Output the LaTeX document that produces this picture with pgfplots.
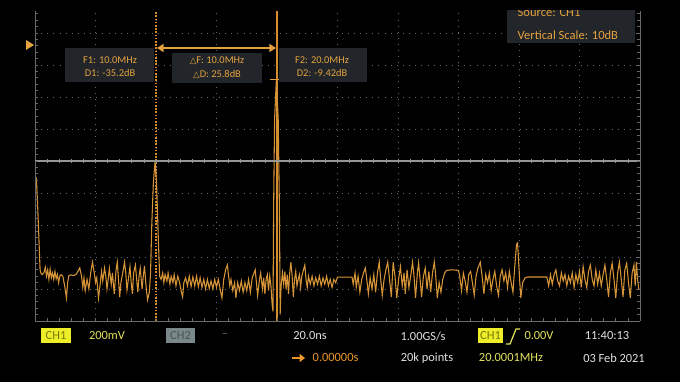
\documentclass[border=0pt]{standalone}
\usepackage{pgfplots}
\pgfplotsset{compat=1.18}
\usetikzlibrary{arrows.meta}
\usepackage{fontspec}
\setmainfont{Carlito}
\newfontfamily\dejavu{DejaVu Sans}
\definecolor{trace}{RGB}{214,148,56}
\definecolor{amber}{RGB}{228,162,62}
\definecolor{markerline}{RGB}{215,140,45}
\definecolor{boxbg}{RGB}{34,38,42}
\definecolor{gridgray}{RGB}{105,105,105}
\definecolor{centergray}{RGB}{150,150,150}
\definecolor{chyellow}{RGB}{238,238,40}
\definecolor{chtext}{RGB}{120,120,10}
\definecolor{ytext}{RGB}{228,228,95}
\definecolor{ch2}{RGB}{122,136,138}
\definecolor{ch2text}{RGB}{70,85,88}
\definecolor{wtext}{RGB}{225,225,225}
\definecolor{otext}{RGB}{235,150,40}
\begin{document}
\begin{tikzpicture}
\path[use as bounding box] (0,0) rectangle (510pt,286.5pt);
\fill[black] (0,0) rectangle (510pt,286.5pt);
\begin{axis}[
  at={(26.25pt,45.75pt)}, anchor=south west,
  scale only axis, width=453.75pt, height=232.5pt,
  xmin=0, xmax=50, ymin=-85, ymax=11.875,
  axis line style={draw=none},
  xtick={5,10,...,45}, ytick={-75,-65,...,5},
  xticklabels={}, yticklabels={},
  major tick length=0pt,
  grid=major,
  major grid style={draw=gridgray, line width=0.6pt, dash pattern=on 0.7pt off 3.9pt},
  clip=true,
]
% marker lines
\addplot[markerline, line width=0.8pt, dash pattern=on 1.2pt off 1.2pt] coordinates {(10,-85) (10,11.875)};
\addplot[markerline, line width=0.8pt] coordinates {(20,-85) (20,11.875)};
\addplot[centergray, line width=0.7pt] coordinates {(9.4,-35.2) (10.6,-35.2)};
\addplot[amber, line width=0.7pt] coordinates {(19.45,-9.42) (20.55,-9.42)};
\addplot[trace, line width=0.8pt] table {
x y
0.02 -39.5
0.1 -40.5
0.2 -47
0.3 -57
0.42 -69
0.5 -70.2
0.6 -70.5
0.75 -69.8
0.85 -68.2
0.95 -71
1.05 -69
1.15 -72
1.25 -68.8
1.35 -71.5
1.45 -70
1.55 -72
1.65 -69.5
1.75 -71.8
1.85 -70.5
1.95 -73
2.05 -71
2.15 -70.5
2.3 -71
2.45 -74
2.6 -77.8
2.7 -73
2.8 -70.8
3.0 -70.6
3.2 -70.8
3.4 -70.4
3.55 -69.5
3.7 -68.4
3.85 -71
3.95 -74.5
4.05 -71.5
4.15 -75.5
4.3 -72
4.45 -75
4.6 -70
4.75 -66.6
4.9 -70
5.0 -73
5.1 -71.5
5.25 -77.8
5.4 -73
5.5 -69.5
5.6 -72.5
5.75 -68.4
5.85 -71
5.95 -75
6.05 -72
6.15 -68.6
6.3 -73.5
6.4 -70
6.55 -76.5
6.7 -69
6.8 -66.6
6.9 -72
7.0 -77.5
7.1 -73
7.25 -70
7.4 -66.6
7.5 -70
7.6 -75.3
7.75 -71
7.85 -68
7.95 -73
8.05 -76.5
8.15 -70
8.3 -67.5
8.4 -72
8.5 -76
8.6 -71
8.7 -68.5
8.85 -75
8.95 -71
9.05 -67.8
9.15 -73
9.3 -78.4
9.45 -76
9.55 -70
9.65 -55
9.78 -42
9.92 -35.2
10.05 -42
10.18 -58
10.3 -71
10.42 -72
10.55 -70
10.65 -73
10.75 -70.5
10.9 -72.5
11.0 -70
11.15 -73.5
11.25 -71
11.4 -73
11.5 -70.5
11.65 -74
11.8 -71
11.95 -73
12.1 -76
12.2 -77.5
12.3 -73
12.45 -71.5
12.6 -74
12.75 -71
12.9 -74.2
13.05 -71.2
13.2 -74
13.35 -71
13.5 -74.3
13.65 -71.5
13.8 -74.5
13.95 -72
14.1 -75
14.25 -72
14.4 -74.8
14.55 -72.5
14.7 -75
14.85 -72
15.0 -74.5
15.15 -72
15.3 -75
15.45 -77.8
15.6 -72
15.75 -69
15.9 -67.5
16.0 -71
16.1 -74
16.2 -72
16.35 -75.5
16.5 -73
16.6 -77.8
16.75 -73
16.9 -75.5
17.05 -72.5
17.2 -76
17.35 -73
17.5 -75.5
17.65 -72
17.8 -76
17.95 -71.5
18.1 -70
18.2 -69
18.3 -73
18.4 -77
18.55 -72
18.65 -70
18.8 -75
18.9 -71.5
19.0 -76.5
19.1 -72
19.2 -70.5
19.3 -75.5
19.4 -71
19.5 -74
19.6 -80
19.67 -82
19.72 -50
19.8 -22
19.95 -9.4
20.1 -22
20.2 -50
20.26 -83
20.34 -74
20.45 -70
20.55 -73.5
20.65 -69.5
20.75 -75
20.85 -70.5
20.95 -76.5
21.05 -70
21.15 -66.6
21.25 -71
21.35 -77.5
21.45 -72
21.55 -69.5
21.65 -74
21.75 -72
21.85 -70.5
21.95 -74.5
22.05 -71
22.15 -69.5
22.3 -67.5
22.4 -72
22.5 -74.5
22.6 -71
22.75 -73.5
22.9 -71
23.05 -74
23.2 -71.5
23.35 -73.5
23.5 -71
23.65 -74
23.8 -71.5
23.95 -73.5
24.1 -71
24.25 -74
24.4 -72
24.55 -74.5
24.7 -72
24.85 -73
25.0 -71.3
25.6 -71.3
26.2 -71.3
26.3 -73.5
26.45 -70
26.55 -74.5
26.7 -71
26.85 -76
27.0 -72
27.15 -70
27.3 -68.4
27.45 -73
27.55 -76.5
27.7 -71.5
27.85 -75
28.0 -70.5
28.15 -76
28.3 -70
28.45 -66.6
28.55 -71
28.7 -77
28.85 -72
29.0 -69
29.15 -66.6
29.3 -72
29.45 -77.5
29.6 -66.6
29.75 -71
29.9 -77.8
30.05 -72
30.2 -68
30.35 -74
30.5 -70
30.6 -76.5
30.75 -69
30.9 -74.5
31.05 -71
31.2 -66.6
31.3 -70
31.45 -77.8
31.6 -70
31.7 -66.8
31.85 -73
31.95 -77.5
32.1 -71
32.25 -68.5
32.4 -75
32.55 -69.5
32.7 -76
32.85 -70
33.0 -66.6
33.1 -70
33.25 -77.8
33.4 -73
33.55 -76
33.7 -72
33.85 -70
34.0 -69.2
34.5 -69
35.0 -69.2
35.1 -71
35.25 -75.5
35.4 -70
35.55 -72.5
35.7 -76
35.85 -70.5
36.0 -69.5
36.15 -73
36.3 -76.9
36.45 -71
36.6 -68.5
36.8 -66.6
36.95 -71
37.1 -76.5
37.25 -70.5
37.4 -73
37.55 -70
37.7 -75.5
37.85 -72
38.0 -69.5
38.15 -74
38.3 -76.9
38.45 -71
38.6 -69
38.75 -72.5
38.9 -70
39.05 -74.5
39.2 -69.5
39.35 -73
39.5 -76
39.65 -68
39.8 -61
39.88 -60.6
39.95 -65
40.05 -72
40.15 -77.8
40.3 -73
40.5 -71.5
40.7 -71.25
41.5 -71.25
42.3 -71.25
42.45 -74
42.6 -70.5
42.75 -73.5
42.9 -70.5
43.05 -69
43.2 -72.5
43.35 -74
43.5 -70
43.65 -72.5
43.8 -70.5
43.95 -74
44.1 -71
44.25 -73
44.4 -70
44.55 -74.5
44.7 -70.5
44.85 -73
45.0 -69.5
45.15 -74.5
45.3 -68
45.45 -72
45.6 -74.5
45.75 -69.5
45.9 -67.5
46.05 -72
46.2 -74
46.35 -69
46.5 -73.5
46.65 -70
46.8 -74
46.95 -70.5
47.1 -67.5
47.25 -72
47.4 -77.5
47.55 -70
47.7 -67
47.85 -72
48.0 -77.8
48.15 -70
48.3 -66.6
48.45 -72
48.6 -77.5
48.75 -69
48.9 -67
49.05 -73
49.2 -77.8
49.35 -70
49.5 -67.5
49.6 -74
49.7 -66.6
49.8 -72
49.9 -75
};
\end{axis}
\begin{scope}[x=0.75pt,y=-0.75pt,yshift=286.5pt]
% graticule frame
\draw[gridgray, line width=0.7pt] (35,11) -- (35,321) -- (640,321);
\draw[gridgray, line width=0.7pt] (640,11) -- (640,321);
\draw[centergray, line width=0.8pt] (35,161) -- (640,161);
\foreach \i in {1,...,49} {
  \draw[centergray, line width=0.6pt] ({35+12.1*\i},159) -- ({35+12.1*\i},163);
  \draw[gridgray, line width=0.6pt] ({35+12.1*\i},318) -- ({35+12.1*\i},321);
}
\foreach \j in {2,...,49} {
  \draw[gridgray, line width=0.6pt] (35,{1+6.4*\j}) -- (38,{1+6.4*\j});
  \draw[gridgray, line width=0.6pt] (637,{1+6.4*\j}) -- (640,{1+6.4*\j});
}
% reference marker
\fill[amber] (26,40) -- (34,45) -- (26,50) -- cycle;
% marker readout boxes
\fill[boxbg] (65,48) rectangle (154,82);
\node[amber, font=\fontsize{7.8}{9}\selectfont] at (110,60) {F1: 10.0MHz};
\node[amber, font=\fontsize{7.8}{9}\selectfont] at (110,73) {D1: -35.2dB};
\fill[boxbg] (172,53) rectangle (262,83);
\node[amber, font=\fontsize{7.8}{9}\selectfont] at (217,61) {{\dejavu\fontsize{6.5}{8}\selectfont △}F: 10.0MHz};
\node[amber, font=\fontsize{7.8}{9}\selectfont] at (217,74) {{\dejavu\fontsize{6.5}{8}\selectfont △}D: 25.8dB};
\fill[boxbg] (279,48) rectangle (367,82);
\node[amber, font=\fontsize{7.8}{9}\selectfont] at (322,60) {F2: 20.0MHz};
\node[amber, font=\fontsize{7.8}{9}\selectfont] at (322,73) {D2: -9.42dB};
\draw[amber, line width=1.4pt, {Triangle[length=5pt,width=6pt]}-{Triangle[length=5pt,width=6pt]}] (157,48) -- (276,48);
\fill[boxbg] (507,4) rectangle (635,43);
\node[amber, anchor=west, font=\fontsize{9.4}{11}\selectfont] at (513,12.5) {Source: CH1};
\node[amber, anchor=west, font=\fontsize{9.4}{11}\selectfont] at (513,35) {Vertical Scale: 10dB};
% top band
\fill[black] (0,0) rectangle (680,10.5);
% bottom status bar
\fill[chyellow] (41,328) rectangle (71,343);
\node[chtext, font=\fontsize{9.3}{11}\selectfont] at (56,335.5) {CH1};
\node[ytext, font=\fontsize{9.3}{11}\selectfont] at (107,336) {200mV};
\fill[ch2] (166,328) rectangle (195,343);
\node[ch2text, font=\fontsize{9.3}{11}\selectfont] at (180.5,335.5) {CH2};
\node[gridgray, font=\fontsize{9.3}{11}\selectfont] at (225,336) {--};
\node[wtext, font=\fontsize{9.3}{11}\selectfont] at (310,336) {20.0ns};
\draw[otext, line width=2pt, -{Triangle[length=4pt,width=6pt]}] (292,358) -- (305,358);
\node[otext, font=\fontsize{9.3}{11}\selectfont, anchor=west] at (308,358) {0.00000s};
\node[wtext, font=\fontsize{9.3}{11}\selectfont] at (423,336) {1.00GS/s};
\node[wtext, font=\fontsize{9.3}{11}\selectfont] at (427,358) {20k points};
\fill[chyellow] (478,328) rectangle (503,343);
\node[chtext, font=\fontsize{9.3}{11}\selectfont] at (490.5,335.5) {CH1};
\draw[ytext, line width=0.9pt] (506,344) -- (510,344) -- (516,329) -- (520,329);
\node[ytext, font=\fontsize{9.3}{11}\selectfont] at (539,336) {0.00V};
\node[ytext, font=\fontsize{9.3}{11}\selectfont] at (511,358) {20.0001MHz};
\node[wtext, font=\fontsize{9.3}{11}\selectfont] at (607,336) {11:40:13};
\node[wtext, font=\fontsize{9.3}{11}\selectfont] at (614,358) {03 Feb 2021};
\end{scope}
\end{tikzpicture}
\end{document}
